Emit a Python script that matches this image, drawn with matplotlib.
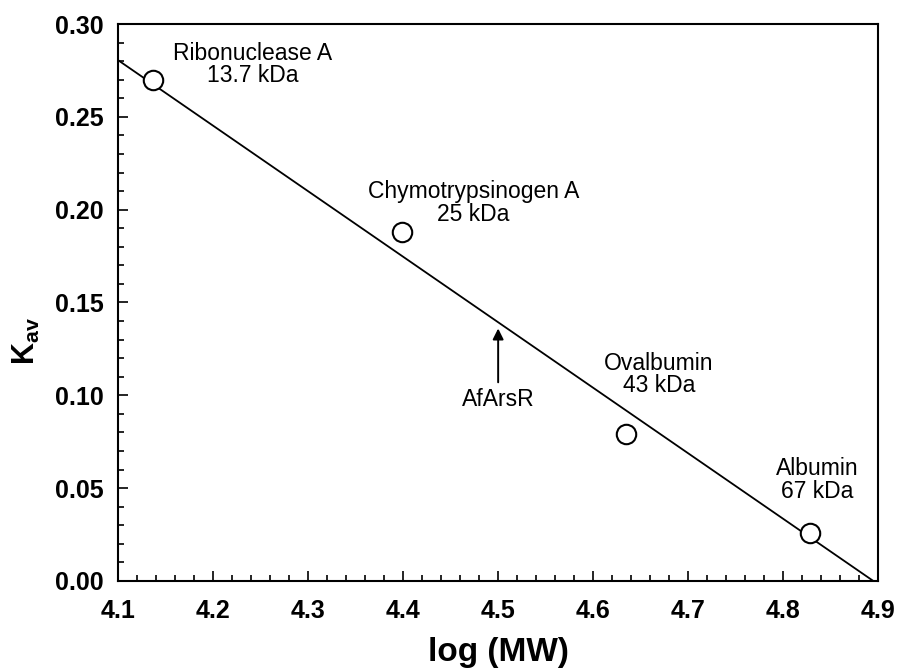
import numpy as np
import matplotlib
matplotlib.use("Agg")
import matplotlib.pyplot as plt
from matplotlib.ticker import MultipleLocator, FormatStrFormatter

plt.rcParams["font.family"] = ["Liberation Sans", "DejaVu Sans"]
plt.rcParams["mathtext.fontset"] = "custom"
plt.rcParams["mathtext.rm"] = "Liberation Sans"
plt.rcParams["mathtext.bf"] = "Liberation Sans:bold"

# ── Data ───────────────────────────────────────────────────────────────────────
log_mw = [4.137, 4.399, 4.635, 4.828]
kav = [0.270, 0.188, 0.079, 0.026]
names = ["Ribonuclease A\n13.7 kDa", "Chymotrypsinogen A\n25 kDa",
         "Ovalbumin\n43 kDa", "Albumin\n67 kDa"]
label_x = [4.242, 4.474, 4.669, 4.836]
label_y = [0.278, 0.2036, 0.111, 0.0544]

# calibration line as drawn (Kav = a + b * log MW)
fit_icept = 1.7283
fit_slope = -0.3531

unknown_name = "AfArsR"
unknown_x = 4.5
arrow_tip, arrow_tail, unknown_label_y = 0.136, 0.107, 0.0975

x_line = np.array([4.1, -fit_icept / fit_slope])

fig = plt.figure(figsize=(9, 6.69), dpi=100)
ax = fig.add_axes([0.131, 0.1316, 0.845, 0.8325])

ax.plot(x_line, fit_slope * x_line + fit_icept, color="black", lw=1.3, zorder=2)
ax.plot(log_mw, kav, "o", ms=14, mfc="white", mec="black", mew=1.5,
        zorder=3, clip_on=False)

for nm, lx, ly in zip(names, label_x, label_y):
    ax.text(lx, ly, nm, ha="center", va="center", fontsize=16.5,
            linespacing=0.95)

ax.annotate("", xy=(unknown_x, arrow_tip), xytext=(unknown_x, arrow_tail),
            arrowprops=dict(arrowstyle="-|>", color="black", lw=1.4,
                            mutation_scale=16, shrinkA=0, shrinkB=0))
ax.text(unknown_x, unknown_label_y, unknown_name, ha="center", va="center",
        fontsize=16.5)

ax.set_xlim(4.1, 4.9)
ax.set_ylim(0, 0.30)
ax.xaxis.set_major_locator(MultipleLocator(0.1))
ax.xaxis.set_minor_locator(MultipleLocator(0.02))
ax.yaxis.set_major_locator(MultipleLocator(0.05))
ax.yaxis.set_minor_locator(MultipleLocator(0.01))
ax.xaxis.set_major_formatter(FormatStrFormatter("%.1f"))
ax.yaxis.set_major_formatter(FormatStrFormatter("%.2f"))
ax.tick_params(which="both", direction="in", width=1.2, top=False, right=False)
ax.tick_params(which="major", length=7, labelsize=18)
ax.tick_params(axis="x", which="major", pad=13)
ax.tick_params(axis="y", which="major", pad=10)
ax.tick_params(which="minor", length=4)
for lbl in ax.get_xticklabels() + ax.get_yticklabels():
    lbl.set_fontweight("bold")
for sp in ax.spines.values():
    sp.set_linewidth(1.5)

ax.set_xlabel("log (MW)", fontsize=24, fontweight="bold", labelpad=10)
ax.set_ylabel(r"$\mathbf{K}_{\mathbf{av}}$", fontsize=22)
ax.yaxis.set_label_coords(-0.1, 0.43)

plt.savefig("out.png", dpi=100)
